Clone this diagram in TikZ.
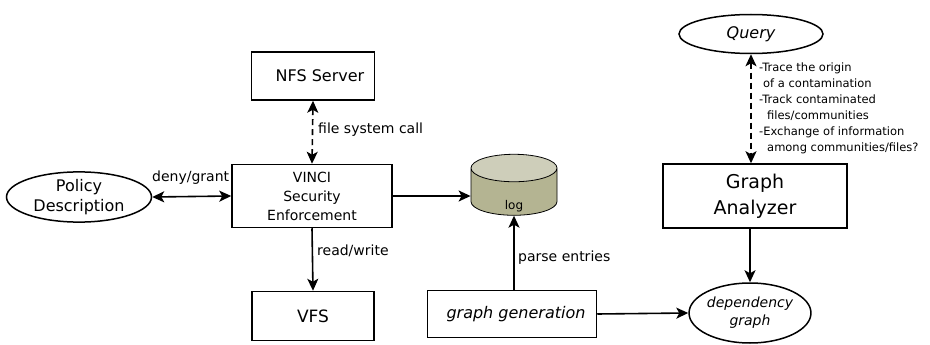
\documentclass[tikz,border=0pt]{standalone}
\usepackage{fontspec}
\setmainfont{DejaVu Sans}
\usetikzlibrary{shapes.geometric,arrows.meta}
\definecolor{logside}{RGB}{180,180,146}
\definecolor{logtop}{RGB}{206,206,186}

\begin{document}
\begin{tikzpicture}[x=1pt,y=-1pt,
  box/.style={draw,line width=1.5pt,inner sep=0pt,align=center},
  oval/.style={draw,ellipse,line width=1.5pt,inner sep=0pt,align=center},
  conn/.style={line width=1.6pt,-{Stealth[length=12pt,width=11pt,inset=3pt]}},
  twoway/.style={line width=1.6pt,{Stealth[length=12pt,width=11pt,inset=3pt]}-{Stealth[length=12pt,width=11pt,inset=3pt]}},
  lbl/.style={font=\fontsize{14}{17}\selectfont,inner sep=0pt,anchor=west}]
  \useasboundingbox (0,0) rectangle (930,345);
  % enforcement side
  \node[oval,minimum width=145,minimum height=49,font=\fontsize{16}{20}\selectfont] (policy) at (79,197) {Policy\\Description};
  \node[box,minimum width=160,minimum height=63,font=\fontsize{14}{19}\selectfont] (vinci) at (312,196) {VINCI\\Security\\Enforcement};
  \node[box,minimum width=123,minimum height=48,font=\fontsize{16}{20}\selectfont] (nfs) at (313,76) {\hspace{14pt}NFS Server};
  \node[box,minimum width=122,minimum height=49,font=\fontsize{17}{20}\selectfont] (vfs) at (313,316) {VFS};
  % log
  \node[draw,cylinder,shape border rotate=90,aspect=1.1,minimum width=86,minimum height=61,
        cylinder uses custom fill,cylinder body fill=logside,cylinder end fill=logtop,
        line width=0.8pt,font=\fontsize{12}{14}\selectfont] (log) at (514,194.5) {\raisebox{-15pt}[0pt][0pt]{log}};
  \node[box,minimum width=169,minimum height=47,font=\fontsize{16}{20}\selectfont\itshape] (gen) at (512,314) {\hspace{8pt}graph generation};
  % analysis side
  \node[oval,minimum width=144,minimum height=39,font=\fontsize{16}{20}\selectfont\itshape] (query) at (751,34) {Query};
  \node[box,minimum width=184,minimum height=64,font=\fontsize{19}{26}\selectfont] (analyzer) at (755,196) {Graph\\Analyzer};
  \node[oval,minimum width=121,minimum height=60,font=\fontsize{14}{18}\selectfont\itshape] (dep) at (750,313) {dependency\\graph};
  % connectors
  \draw[twoway] (policy.east) -- (vinci.west);
  \draw[twoway,dash pattern=on 6pt off 4pt] (nfs.south) -- (vinci.north);
  \draw[conn] (vinci.south) -- (vfs.north);
  \draw[conn] (vinci.east) -- (vinci.east -| log.west);
  \draw[conn] (log.south |- gen.north) -- (log.south);
  \draw[conn] (gen.east) -- (dep.west);
  \draw[conn] (dep.north |- analyzer.south) -- (dep.north);
  \draw[twoway,dash pattern=on 6pt off 4pt] (query.south) -- (query.south |- analyzer.north);
  % labels
  \node[lbl] (lgrant) at (152,178) {deny/grant};
  \node[lbl] (lcall) at (318,130) {file system call};
  \node[lbl] (lrw) at (317,251) {read/write};
  \node[lbl] (lparse) at (518,258) {parse entries};
  \node[inner sep=0pt,anchor=north west,align=left,font=\fontsize{11.5}{16}\selectfont] (tasks) at (759,63)
    {-Trace the origin\\\hspace{4pt}of a contamination\\-Track contaminated\\\hspace{8pt}files/communities\\-Exchange of information\\\hspace{8pt}among communities/files?};
\end{tikzpicture}
\end{document}
